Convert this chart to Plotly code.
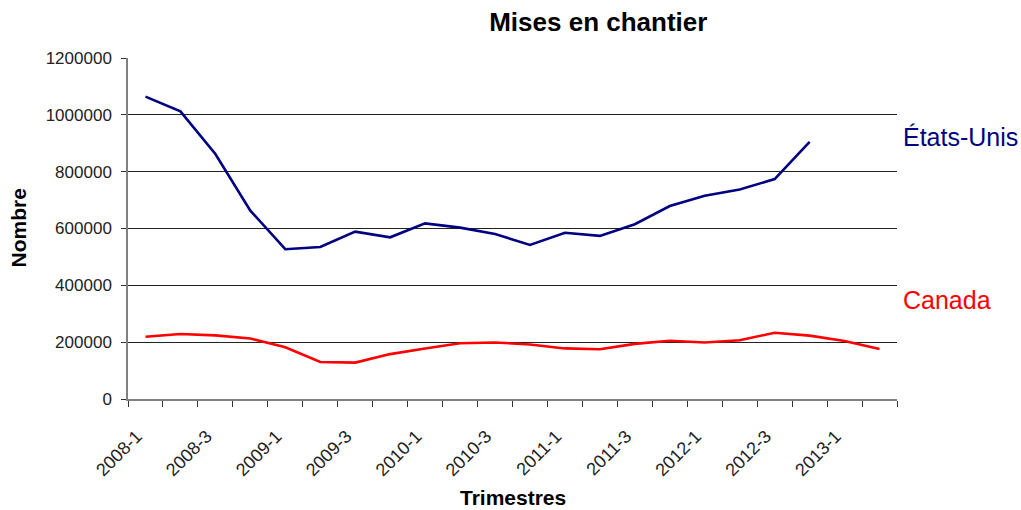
import plotly.graph_objects as go

quarters = [f"{y}-{q}" for y in range(2008, 2014) for q in range(1, 5)][:22]

etats_unis = [1064000, 1012000, 862000, 663000, 527000, 535000, 589000, 569000,
              618000, 603000, 581000, 542000, 585000, 574000, 615000, 679000,
              715000, 737000, 774000, 905000]
canada = [219000, 229000, 224000, 213000, 182000, 130000, 128000, 158000,
          178000, 196000, 199000, 192000, 178000, 175000, 194000, 205000,
          199000, 207000, 233000, 223000, 204000, 176000]

y_ticks = list(range(0, 1200001, 200000))

idx = list(range(len(quarters)))

fig = go.Figure()
fig.add_trace(go.Scatter(x=idx[:len(etats_unis)], y=etats_unis, mode='lines',
                         name='États-Unis', line=dict(color='#000080', width=2.6)))
fig.add_trace(go.Scatter(x=idx[:len(canada)], y=canada, mode='lines',
                         name='Canada', line=dict(color='#FF0000', width=2.6)))

y_font = dict(family='Liberation Sans Narrow, Arial Narrow, Arial', size=17, color='#222222')
x_font = dict(family='Liberation Sans Narrow, Arial Narrow, Arial', size=18, color='#222222')

# labels sit slightly left of the category centre, as in the original
label_pos = [i - 0.25 for i in idx[::2]]

fig.update_layout(
    width=1021, height=510,
    margin=dict(l=128, r=124, t=58, b=111),
    paper_bgcolor='white', plot_bgcolor='white',
    showlegend=False,
    font=dict(family='Liberation Sans, Arial', color='black'),
    title=dict(text='<b>Mises en chantier</b>', x=0.586, xanchor='center',
               y=0.957, yanchor='middle', font=dict(size=26, color='black')),
    xaxis=dict(range=[-0.5, len(quarters) - 0.5],
               tickvals=label_pos, ticktext=quarters[::2], tickangle=-45,
               tickfont=x_font, ticks='', showgrid=False, zeroline=False,
               showline=True, linecolor='#808080', linewidth=1.5,
               ticklabelstandoff=18,
               minor=dict(tickvals=[i - 0.5 for i in idx] + [len(quarters) - 0.5],
                          ticks='outside', ticklen=6, tickcolor='#333333', showgrid=False)),
    yaxis=dict(range=[0, 1200000], tickvals=y_ticks, ticktext=[str(v) for v in y_ticks],
               tickfont=y_font, ticks='outside', ticklen=5, tickcolor='#333333',
               showgrid=True, gridcolor='#222222', gridwidth=1, zeroline=False,
               showline=True, linecolor='#808080', linewidth=1.5,
               ticklabelstandoff=6),
    annotations=[
        dict(text='<b>Nombre</b>', xref='paper', yref='paper', x=-0.143, y=0.5,
             textangle=-90, showarrow=False, font=dict(size=21, color='black'),
             xanchor='center', yanchor='middle'),
        dict(text='<b>Trimestres</b>', xref='paper', yref='paper', x=0.5, y=-0.29,
             showarrow=False, font=dict(size=21, color='black'),
             xanchor='center', yanchor='middle'),
        dict(text='États-Unis', xref='paper', yref='paper', x=1.005, y=0.768,
             showarrow=False, font=dict(size=25, color='#000080'),
             xanchor='left', yanchor='middle'),
        dict(text='Canada', xref='paper', yref='paper', x=1.005, y=0.290,
             showarrow=False, font=dict(size=25, color='#FF0000'),
             xanchor='left', yanchor='middle'),
    ],
)

fig.write_html("out.html", config={'displayModeBar': False},
               post_script="document.body.style.margin='0';")
